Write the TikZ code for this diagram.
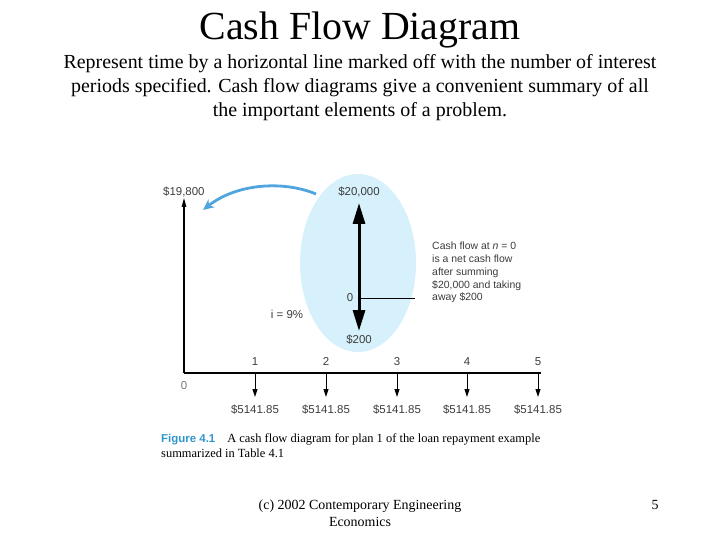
\documentclass[tikz,border=0pt]{standalone}
\usepackage{fontspec}
\setmainfont{Liberation Serif}
\newfontfamily\figfont{Liberation Sans}
\usetikzlibrary{arrows.meta}
\definecolor{ovalblue}{RGB}{214,241,251}
\definecolor{curveblue}{RGB}{80,165,222}
\definecolor{figgray}{RGB}{60,60,60}
\definecolor{capblue}{RGB}{50,150,205}
\tikzset{
  lbl/.style={font=\figfont\fontsize{11.5}{13}\selectfont, text=figgray, inner sep=0pt},
  flow/.style={line width=1bp, -{Triangle[length=8bp,width=5bp]}},
  bigflow/.style={line width=3bp, -{Triangle[length=21bp,width=12bp]}},
}
\begin{document}
\begin{tikzpicture}[x=1bp,y=-1bp]
\useasboundingbox (0,0) rectangle (720,540);
% title
\node (title) [anchor=base, inner sep=0pt, font=\fontsize{40}{44}\selectfont] at (360,40) {Cash Flow Diagram};
\node (intro) [anchor=north, align=center, inner sep=0pt, font=\fontsize{20}{24.2}\selectfont] at (360,54)
  {Represent time by a horizontal line marked off with the number of interest\\
   periods specified. Cash flow diagrams give a convenient summary of all\\
   the important elements of a problem.};
% oval
\fill[ovalblue] (358,263) ellipse [x radius=58, y radius=89];
% axes
\coordinate (O) at (184,373);
\coordinate (top) at (184,198);
\coordinate (end) at (541,373);
\draw[line width=1.2bp] (end) -- (O);
\draw[line width=1.2bp, -{Triangle[length=9bp,width=4.5bp]}] (O) -- (top);
\node (zero0) [lbl, text=figgray!70] at (184,386) {0};
\node (net) [lbl, anchor=base west] at (163,196) {\$19,800};
% payments
\foreach \n/\x in {1/255,2/326,3/397,4/467,5/538} {
  \coordinate (a\n) at (\x,373);
  \coordinate (b\n) at (\x,397);
  \node (t\n) [lbl, anchor=base] at (\x,365) {\n};
  \node (pay\n) [lbl] at (\x,410) {\$5141.85};
  \draw[flow] (a\n) -- (b\n);
}
% cash flow at n = 0
\coordinate (z) at (359,298);
\coordinate (up) at (359,203);
\coordinate (dn) at (359,331);
\draw[bigflow] (z) -- (up);
\draw[bigflow] (z) -- (dn);
\node (plus) [lbl] at (359,192) {\$20,000};
\node (minus) [lbl] at (359,340) {\$200};
\node (zero) [lbl] at (350,298) {0};
\node (rate) [lbl] at (287,314) {i = 9\%};
\node (note) [lbl, anchor=north west, align=left, font=\figfont\fontsize{10.5}{12.8}\selectfont] at (432,242)
  {Cash flow at \textit{n} = 0\\ is a net cash flow\\ after summing\\ \$20,000 and taking\\ away \$200};
\coordinate (lend) at (415,298);
\draw[line width=0.8bp] (z) -- (lend);
% curved arrow
\coordinate (cs) at (316,194);
\coordinate (ce) at (203,210);
\draw[curveblue, line width=2.8bp, -{Stealth[length=11bp,width=10bp]}] (cs) .. controls (282,180) and (236,184) .. (ce);
% caption
\node (caption) [anchor=base west, align=left, inner sep=0pt, font=\fontsize{12.5}{15}\selectfont] at (161,457)
  {{\figfont\bfseries\fontsize{11.5}{15}\selectfont\color{capblue}Figure 4.1}\hspace{12bp}A cash flow diagram for plan 1 of the loan repayment example\\
   summarized in Table 4.1};
% footer
\node (foot) [anchor=base, align=center, inner sep=0pt, font=\fontsize{14}{17}\selectfont] at (360,526)
  {(c) 2002 Contemporary Engineering\\ Economics};
\node (page) [anchor=base, inner sep=0pt, font=\fontsize{14}{17}\selectfont] at (655,509) {5};
\end{tikzpicture}
\end{document}
